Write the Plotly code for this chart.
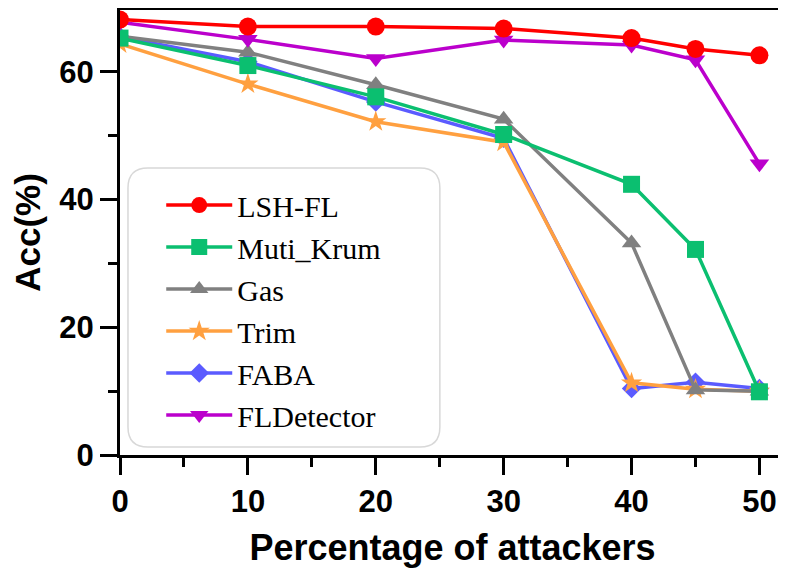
import plotly.graph_objects as go

x_vals = [0, 10, 20, 30, 40, 45, 50]
lsh_fl = [68.2, 67.1, 67.1, 66.8, 65.3, 63.6, 62.6]
muti_krum = [65.3, 61.0, 56.1, 50.2, 42.4, 32.2, 9.9]
gas = [65.6, 63.1, 58.0, 52.6, 33.2, 10.2, 10.0]
trim = [64.4, 58.1, 52.2, 49.0, 11.3, 10.3, 10.0]
faba = [65.5, 61.6, 55.3, 49.6, 10.4, 11.4, 10.4]
fldetector = [67.8, 65.1, 62.1, 65.0, 64.2, 61.9, 45.6]

series = [
    ("FABA", faba, "#5B5BFF", "diamond", 15, 5),
    ("Trim", trim, "#FFA040", "star", 16, 4),
    ("Gas", gas, "#808080", "triangle-up", 17, 3),
    ("Muti_Krum", muti_krum, "#0BBF70", "square", 17, 2),
    ("FLDetector", fldetector, "#BB00CC", "triangle-down", 17, 6),
    ("LSH-FL", lsh_fl, "#FF0000", "circle", 18, 1),
]

fig = go.Figure()
for name, ys, color, sym, size, rank in series:
    fig.add_trace(go.Scatter(
        x=x_vals, y=ys, name=name, mode="lines+markers",
        line=dict(color=color, width=3.5),
        marker=dict(symbol=sym, size=size, color=color),
        legendrank=rank, legendgroup=name,
    ))

sans = "Liberation Sans, Arial"
tickfont = dict(family=sans, size=31, color="black", weight="bold")
fig.update_layout(
    width=778, height=563,
    margin=dict(l=112, r=1, t=2, b=116),
    plot_bgcolor="white", paper_bgcolor="white",
    showlegend=True,
    legend=dict(
        x=0.062, y=0.62, xanchor="left", yanchor="top",
        bgcolor="rgba(0,0,0,0)", borderwidth=0,
        font=dict(family="Liberation Serif, Times New Roman", size=30, color="black"),
        tracegroupgap=4, itemwidth=66, traceorder="normal",
    ),
    xaxis=dict(
        range=[0, 52], tickvals=[0, 10, 20, 30, 40, 50],
        showgrid=False, zeroline=False, automargin=False,
        showline=True, linecolor="black", linewidth=3, mirror=True,
        ticks="outside", ticklen=17, tickwidth=3, tickcolor="black",
        minor=dict(tickvals=[5, 15, 25, 35, 45], ticks="outside", ticklen=9, tickwidth=3, tickcolor="black"),
        tickfont=tickfont,
        title=dict(text="<b>Percentage of attackers</b>", standoff=17,
                   font=dict(family=sans, size=36, color="black")),
    ),
    yaxis=dict(
        range=[0, 69.7], tickvals=[0, 20, 40, 60],
        showgrid=False, zeroline=False, automargin=False,
        showline=True, linecolor="black", linewidth=3,
        ticks="outside", ticklen=17, tickwidth=3, tickcolor="black",
        minor=dict(tickvals=[10, 30, 50], ticks="outside", ticklen=9, tickwidth=3, tickcolor="black"),
        tickfont=tickfont,
        title=dict(text="<b>Acc(%)</b>", standoff=18,
                   font=dict(family=sans, size=35, color="black")),
    ),
)

# light right border
fig.add_shape(type="line", xref="paper", yref="paper", x0=1, x1=1, y0=0, y1=1,
              line=dict(color="#BBBBBB", width=1.5))

# rounded legend frame
x0, x1, y0, y1 = 0.012, 0.481, 0.018, 0.645
rx, ry = 0.03, 0.045
path = (f"M {x0+rx},{y1} L {x1-rx},{y1} Q {x1},{y1} {x1},{y1-ry} "
        f"L {x1},{y0+ry} Q {x1},{y0} {x1-rx},{y0} L {x0+rx},{y0} "
        f"Q {x0},{y0} {x0},{y0+ry} L {x0},{y1-ry} Q {x0},{y1} {x0+rx},{y1} Z")
fig.add_shape(type="path", xref="paper", yref="paper", path=path,
              line=dict(color="#D8D8D8", width=1.5), fillcolor="rgba(0,0,0,0)", layer="below")

fig.write_html("out.html")
